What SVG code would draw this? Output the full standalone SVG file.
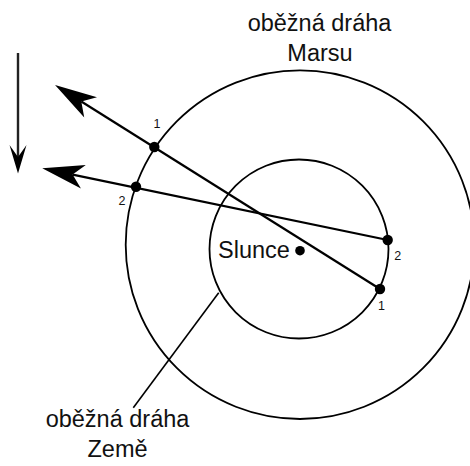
<svg xmlns="http://www.w3.org/2000/svg" width="470" height="466" viewBox="0 0 470 466">
  <style>
    .orbit { fill: none; stroke: #000; stroke-width: 1.8; }
    .ray { fill: none; stroke: #000; stroke-width: 2.2; }
    .lead { fill: none; stroke: #000; stroke-width: 1.6; }
    .dot { fill: #000; }
    .lbl { font-family: "Liberation Sans", Arial, sans-serif; font-size: 23.5px; fill: #111; text-anchor: middle; }
    .num { font-family: "Liberation Sans", Arial, sans-serif; font-size: 12.5px; fill: #111; text-anchor: middle; }
  </style>
  <defs>
    <marker id="head" markerUnits="userSpaceOnUse" viewBox="-12 -13 44 26" refX="0" refY="0" markerWidth="44" markerHeight="26" orient="auto">
      <path d="M31,0 L-11,-12 L0,0 L-11,12 Z" fill="#000"/>
    </marker>
  </defs>
  <rect width="470" height="466" fill="#fff"/>

  <g id="mars-orbit">
    <circle class="orbit" cx="300" cy="244.7" r="174.3"/>
    <text class="lbl" x="319.5" y="31">oběžná dráha</text>
    <text class="lbl" x="320" y="60.5">Marsu</text>
  </g>

  <g id="earth-orbit">
    <circle class="orbit" cx="299" cy="249" r="89.5"/>
    <text class="lbl" x="117.5" y="427">oběžná dráha</text>
    <text class="lbl" x="117.5" y="456.5">Země</text>
  </g>

  <g id="sun">
    <circle class="dot" cx="300" cy="250.7" r="4.8"/>
    <text class="lbl" x="254" y="257.5">Slunce</text>
  </g>

  <g id="connectors">
    <line class="ray" x1="380" y1="289" x2="81.3" y2="101.5" marker-end="url(#head)"/>
    <line class="ray" x1="387.7" y1="240" x2="72.6" y2="174.6" marker-end="url(#head)"/>
    <line class="lead" x1="218.7" y1="292.7" x2="133.3" y2="407.7"/>
    <line stroke="#222" stroke-width="2.4" x1="18" y1="53" x2="18" y2="158"/>
    <path d="M18,173.5 L9.5,145 L18,157 L26.5,145 Z" fill="#000"/>
  </g>

  <g id="positions">
    <circle class="dot" cx="154.3" cy="147" r="5.2"/>
    <circle class="dot" cx="136" cy="186.7" r="5.2"/>
    <circle class="dot" cx="380" cy="289" r="5.2"/>
    <circle class="dot" cx="387.7" cy="240" r="5.2"/>
    <text class="num" x="157" y="128.3">1</text>
    <text class="num" x="122" y="205">2</text>
    <text class="num" x="397.7" y="259.5">2</text>
    <text class="num" x="381.5" y="310">1</text>
  </g>
</svg>
